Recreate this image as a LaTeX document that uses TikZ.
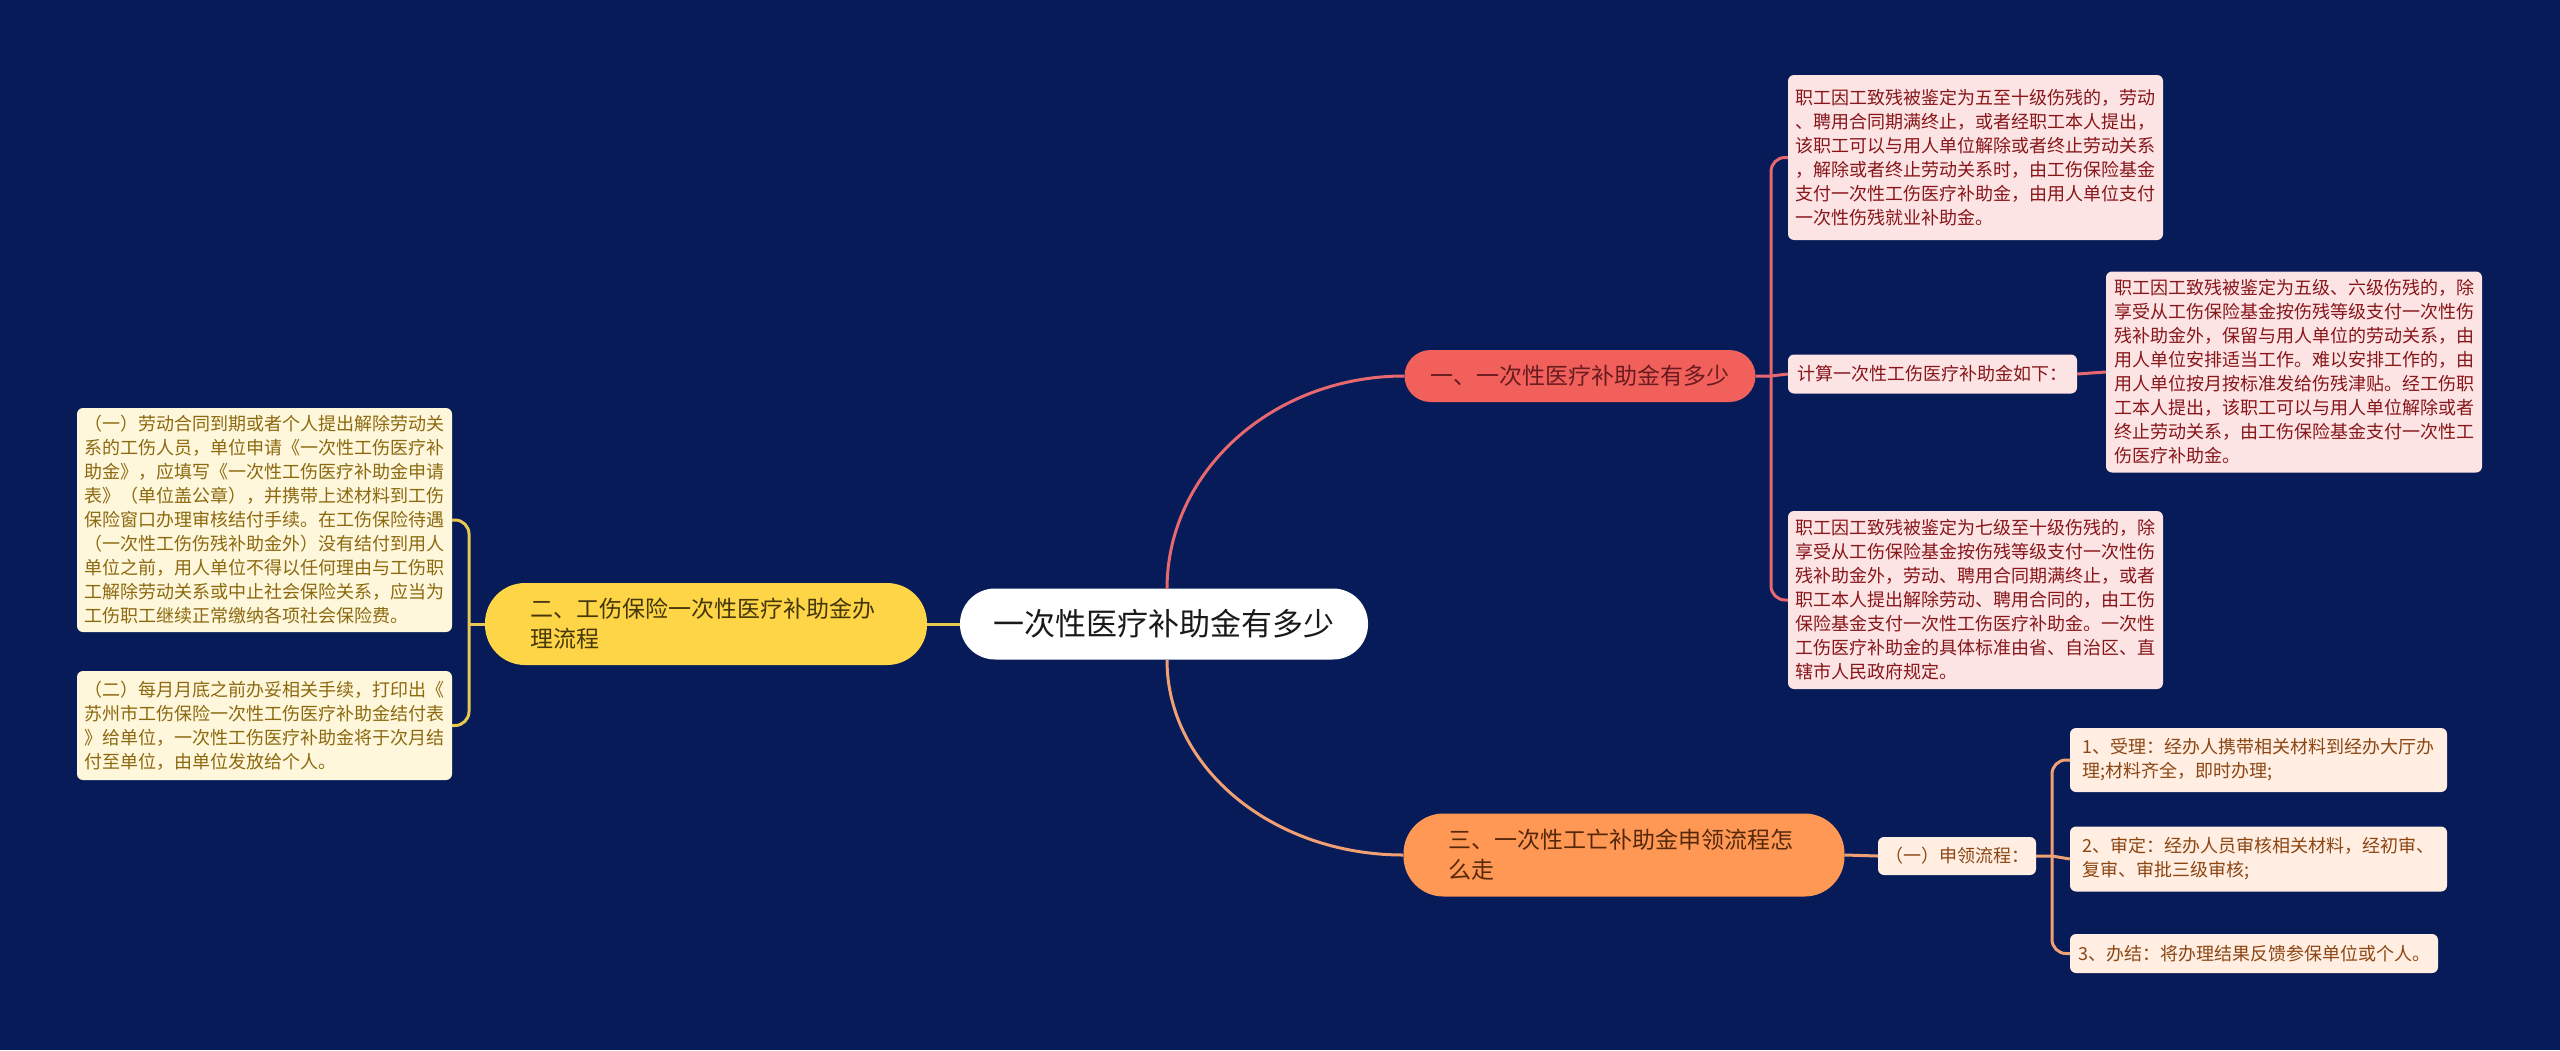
\documentclass[tikz,border=0pt]{standalone}
\usepackage{fontspec}
\newfontfamily\cjk{Noto Sans CJK SC}
\usetikzlibrary{calc}
\definecolor{bgcol}{RGB}{6,27,88}
\definecolor{redfill}{RGB}{242,96,92}
\definecolor{redtext}{RGB}{105,28,32}
\definecolor{pinkfill}{RGB}{253,228,228}
\definecolor{pinktext}{RGB}{135,22,26}
\definecolor{redline}{RGB}{232,104,112}
\definecolor{yelfill}{RGB}{253,213,70}
\definecolor{yeltext}{RGB}{70,55,10}
\definecolor{creamfill}{RGB}{254,247,220}
\definecolor{creamtext}{RGB}{140,105,15}
\definecolor{yelline}{RGB}{232,200,80}
\definecolor{orfill}{RGB}{255,152,85}
\definecolor{ortext}{RGB}{85,40,10}
\definecolor{peachfill}{RGB}{255,238,225}
\definecolor{peachtext}{RGB}{140,70,20}
\definecolor{orline}{RGB}{240,160,115}
\begin{document}
\begin{tikzpicture}[x=1pt,y=-1pt,
  leaf/.style={rounded corners=6pt, inner sep=0pt, align=left, font=\cjk\fontsize{18}{24}\selectfont},
  redleaf/.style={leaf, fill=pinkfill, text=pinktext},
  yelleaf/.style={leaf, fill=creamfill, text=creamtext},
  orleaf/.style={leaf, fill=peachfill, text=peachtext},
  branch/.style={inner sep=0pt, align=left, font=\cjk\fontsize{23}{30}\selectfont},
  rootnode/.style={fill=white, text={rgb,255:red,25;green,25;blue,25}, rounded corners=35pt, inner sep=0pt, minimum width=408pt, minimum height=71pt, font=\cjk\fontsize{31}{36}\selectfont},
  conn/.style={line width=3pt},
  redconn/.style={conn, draw=redline},
  yelconn/.style={conn, draw=yelline},
  orconn/.style={conn, draw=orline}
]
\fill[bgcol] (0,0) rectangle (2560,1050);
\useasboundingbox (0,0) rectangle (2560,1050);

% root
\node[rootnode] (c) at (1164,624) {一次性医疗补助金有多少};

% branches
\node[branch, fill=redfill, text=redtext, rounded corners=26pt, minimum width=351pt, minimum height=52pt] (b1) at (1580,376) {一、一次性医疗补助金有多少};
\node[branch, fill=yelfill, text=yeltext, rounded corners=40pt, minimum width=442pt, minimum height=82pt, text width=352pt] (b2) at (706,624) {二、工伤保险一次性医疗补助金办\\理流程};
\node[branch, fill=orfill, text=ortext, rounded corners=40pt, minimum width=441pt, minimum height=83pt, text width=352pt] (b3) at (1624,855) {三、一次性工亡补助金申领流程怎\\么走};

% branch 1 leaves
\node[redleaf, minimum width=375pt, minimum height=165pt] (a1) at (1975.5,157.5) {职工因工致残被鉴定为五至十级伤残的，劳动\\、聘用合同期满终止，或者经职工本人提出，\\该职工可以与用人单位解除或者终止劳动关系\\，解除或者终止劳动关系时，由工伤保险基金\\支付一次性工伤医疗补助金，由用人单位支付\\一次性伤残就业补助金。};
\node[redleaf, minimum width=289pt, minimum height=39pt] (a2) at (1932.5,374) {计算一次性工伤医疗补助金如下：};
\node[redleaf, minimum width=376pt, minimum height=201pt] (a3) at (2294,372) {职工因工致残被鉴定为五级、六级伤残的，除\\享受从工伤保险基金按伤残等级支付一次性伤\\残补助金外，保留与用人单位的劳动关系，由\\用人单位安排适当工作。难以安排工作的，由\\用人单位按月按标准发给伤残津贴。经工伤职\\工本人提出，该职工可以与用人单位解除或者\\终止劳动关系，由工伤保险基金支付一次性工\\伤医疗补助金。};
\node[redleaf, minimum width=375pt, minimum height=178pt] (a4) at (1975.5,600) {职工因工致残被鉴定为七级至十级伤残的，除\\享受从工伤保险基金按伤残等级支付一次性伤\\残补助金外，劳动、聘用合同期满终止，或者\\职工本人提出解除劳动、聘用合同的，由工伤\\保险基金支付一次性工伤医疗补助金。一次性\\工伤医疗补助金的具体标准由省、自治区、直\\辖市人民政府规定。};

% branch 2 leaves
\node[yelleaf, minimum width=375pt, minimum height=224pt] (d1) at (264.5,520) {（一）劳动合同到期或者个人提出解除劳动关\\系的工伤人员，单位申请《一次性工伤医疗补\\助金》，应填写《一次性工伤医疗补助金申请\\表》（单位盖公章），并携带上述材料到工伤\\保险窗口办理审核结付手续。在工伤保险待遇\\（一次性工伤伤残补助金外）没有结付到用人\\单位之前，用人单位不得以任何理由与工伤职\\工解除劳动关系或中止社会保险关系，应当为\\工伤职工继续正常缴纳各项社会保险费。};
\node[yelleaf, minimum width=375pt, minimum height=109pt] (d2) at (264.5,725.5) {（二）每月月底之前办妥相关手续，打印出《\\苏州市工伤保险一次性工伤医疗补助金结付表\\》给单位，一次性工伤医疗补助金将于次月结\\付至单位，由单位发放给个人。};

% branch 3 leaves
\node[orleaf, minimum width=158pt, minimum height=38pt] (e0) at (1957,856) {（一）申领流程：};
\node[orleaf, minimum width=377pt, minimum height=64pt] (e1) at (2258.5,760) {1、受理：经办人携带相关材料到经办大厅办\\理;材料齐全，即时办理;};
\node[orleaf, minimum width=377pt, minimum height=65pt] (e2) at (2258.5,859) {2、审定：经办人员审核相关材料，经初审、\\复审、审批三级审核;};
\node[orleaf, minimum width=368pt, minimum height=39pt] (e3) at (2254,953.5) {3、办结：将办理结果反馈参保单位或个人。};

% junctions
\coordinate (j1) at (1771,376);
\coordinate (j2) at (469,624);
\coordinate (j3) at (2052,856);
\coordinate (ct) at (1167,589);
\coordinate (cb) at (1167,660);

% root connectors
\draw[redconn] (ct) .. controls (1167,471) and (1273,376) .. (b1.west);
\draw[orconn] (cb) .. controls (1167,768) and (1273,855) .. (b3.west);
\draw[yelconn] (c.west) -- (b2.east);

% branch 1 connectors
\draw[redconn] (b1.east) -- (j1) -- (a2.west);
\draw[redconn, rounded corners=14pt] (j1) |- (a1.west);
\draw[redconn, rounded corners=14pt] (j1) |- (a4.west);
\draw[redconn] (a2.east) -- (a3.west);

% branch 2 connectors
\draw[yelconn] (b2.west) -- (j2);
\draw[yelconn, rounded corners=14pt] (j2) |- (d1.east);
\draw[yelconn, rounded corners=14pt] (j2) |- (d2.east);

% branch 3 connectors
\draw[orconn] (b3.east) -- (e0.west);
\draw[orconn] (e0.east) -- (j3) -- (e2.west);
\draw[orconn, rounded corners=14pt] (j3) |- (e1.west);
\draw[orconn, rounded corners=14pt] (j3) |- (e3.west);
\end{tikzpicture}
\end{document}
